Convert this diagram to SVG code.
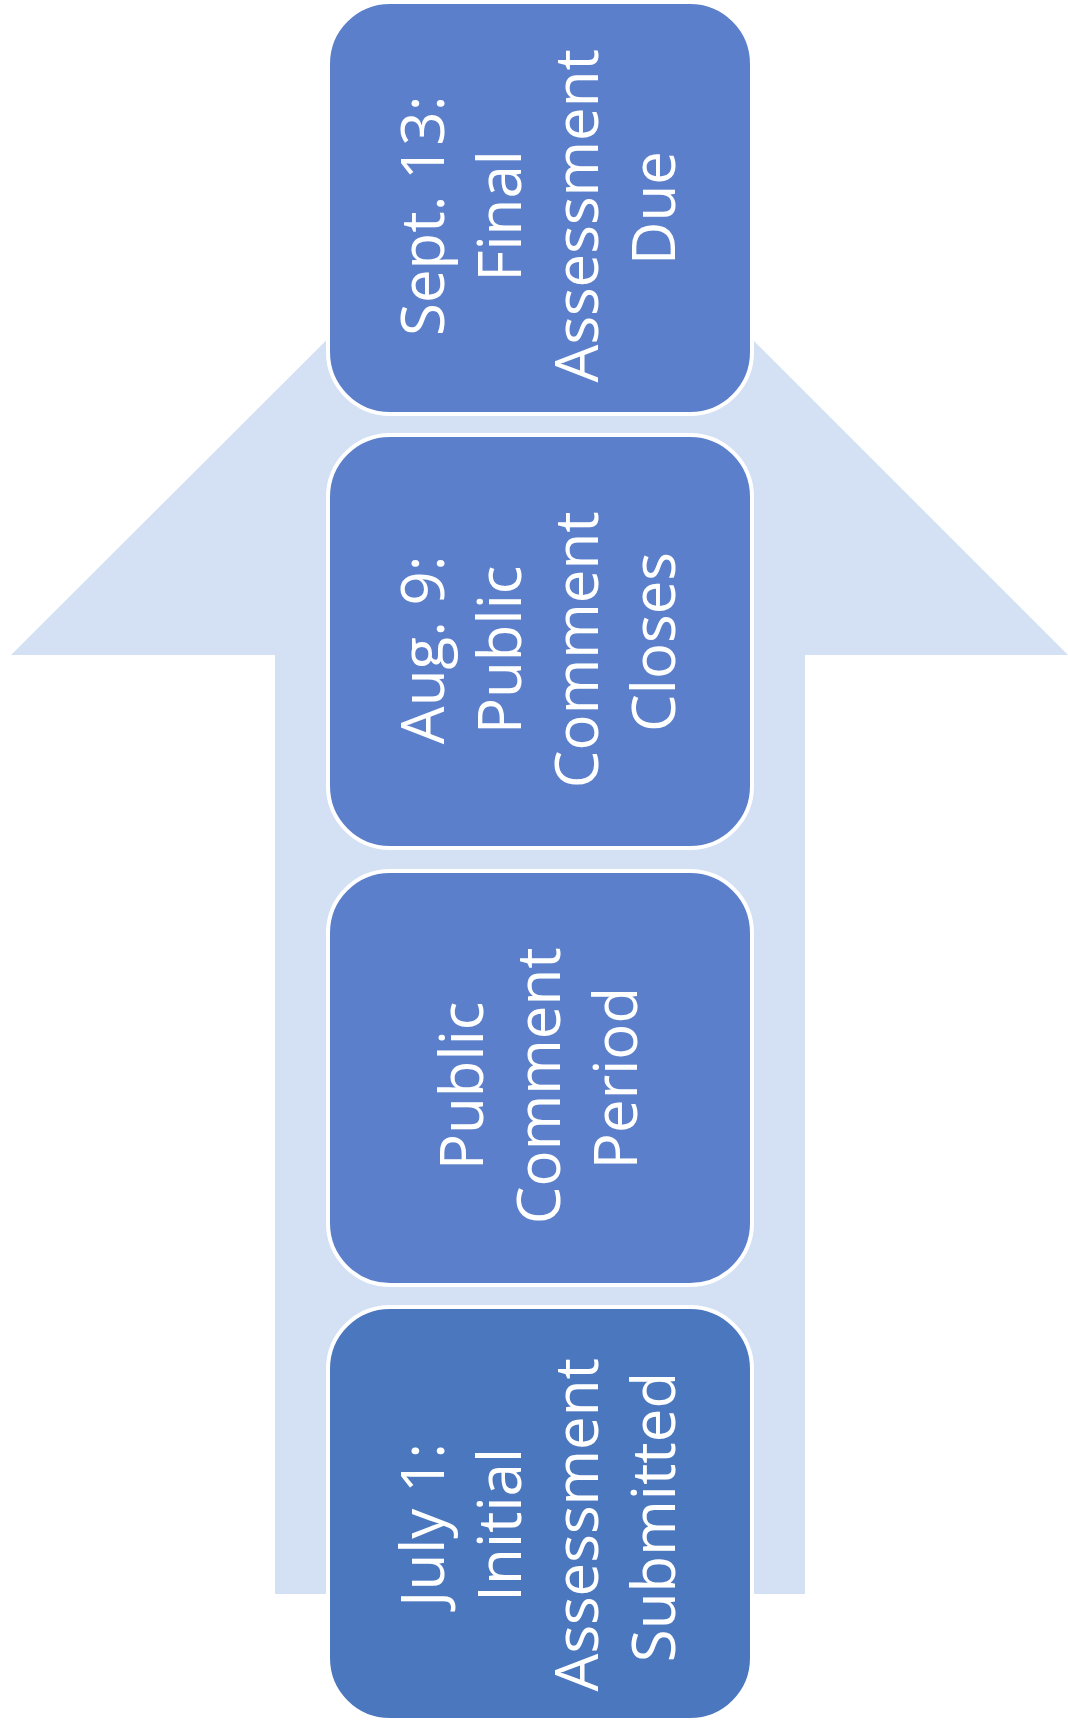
<svg xmlns="http://www.w3.org/2000/svg" width="1068" height="1730" viewBox="0 0 1068 1730">
  <style>
    .box { stroke: #ffffff; stroke-width: 4; }
    .b1 { fill: #5b7fca; }
    .b4 { fill: #4b77be; }
    .lbl { font-family: "Open Sans", "Noto Sans", "Liberation Sans", sans-serif; font-size: 60px; fill: #ffffff; text-anchor: middle; }
  </style>
  <rect width="1068" height="1730" fill="#ffffff"/>
  <g id="connectors">
    <polygon id="arrow" points="540,127 1068,655 805,655 805,1594 275,1594 275,655 11,655" fill="#d4e0f4"/>
  </g>
  <g id="node-sept13">
    <rect class="box b1" x="328" y="2" width="424" height="412" rx="62" ry="62"/>
    <text class="lbl" transform="translate(540,208) rotate(-90)">
      <tspan x="0" y="-96">Sept. 13:</tspan>
      <tspan x="0" y="-19">Final</tspan>
      <tspan x="0" y="58">Assessment</tspan>
      <tspan x="0" y="135">Due</tspan>
    </text>
  </g>
  <g id="node-aug9">
    <rect class="box b1" x="328" y="435" width="424" height="413" rx="62" ry="62"/>
    <text class="lbl" transform="translate(540,642) rotate(-90)">
      <tspan x="0" y="-96">Aug. 9:</tspan>
      <tspan x="0" y="-19">Public</tspan>
      <tspan x="0" y="58">Comment</tspan>
      <tspan x="0" y="135">Closes</tspan>
    </text>
  </g>
  <g id="node-period">
    <rect class="box b1" x="328" y="871" width="424" height="414" rx="62" ry="62"/>
    <text class="lbl" transform="translate(540,1078) rotate(-90)">
      <tspan x="0" y="-57">Public</tspan>
      <tspan x="0" y="20">Comment</tspan>
      <tspan x="0" y="97">Period</tspan>
    </text>
  </g>
  <g id="node-july1">
    <rect class="box b4" x="328" y="1307" width="424" height="413" rx="62" ry="62"/>
    <text class="lbl" transform="translate(540,1517) rotate(-90)">
      <tspan x="0" y="-96">July 1:</tspan>
      <tspan x="0" y="-19">Initial</tspan>
      <tspan x="0" y="58">Assessment</tspan>
      <tspan x="0" y="135">Submitted</tspan>
    </text>
  </g>
</svg>
